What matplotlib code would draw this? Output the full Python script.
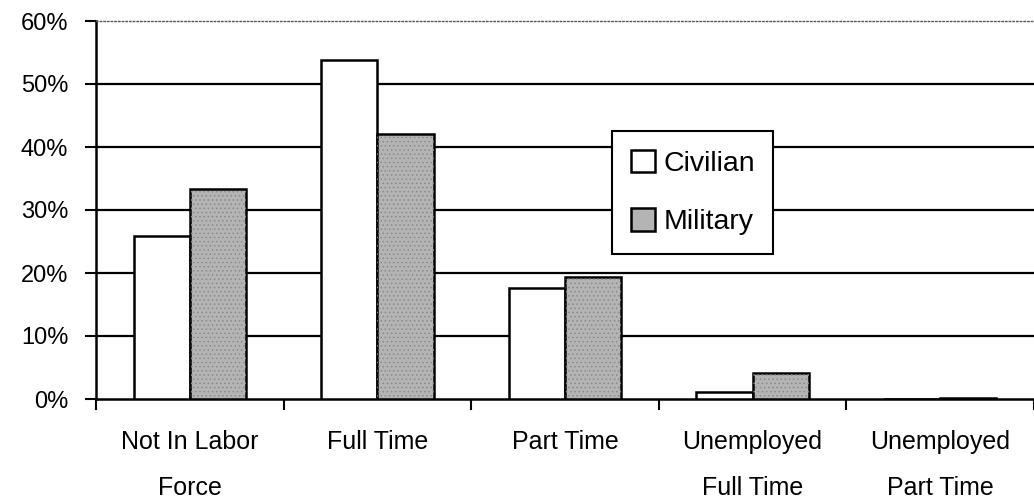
import numpy as np
import matplotlib.pyplot as plt
from matplotlib.ticker import FuncFormatter, FixedLocator

# data
categories = ["Not In Labor\nForce", "Full Time", "Part Time",
              "Unemployed\nFull Time", "Unemployed\nPart Time"]
civilian = [25.8, 53.8, 17.6, 1.1, 0.0]
military = [33.4, 42.0, 19.3, 4.1, 0.2]

plt.rcParams['font.family'] = ['Liberation Sans', 'DejaVu Sans']

fig = plt.figure(figsize=(10.34, 5.00), dpi=100)
ax = fig.add_axes([96 / 1034, 1 - 399 / 500, 1 - 96 / 1034, 378 / 500])

x = np.arange(len(categories))
w = 0.3

ax.bar(x - w / 2, civilian, w, color='white', edgecolor='black',
       linewidth=1.8, zorder=3, label='Civilian')
ax.bar(x + w / 2, military, w, color='#b4b4b4', edgecolor='black',
       linewidth=1.8, zorder=3, label='Military')
# stipple texture on the military bars
plt.rcParams['hatch.linewidth'] = 0.6
ax.bar(x + w / 2, military, w, color='none', edgecolor='#8a8a8a',
       hatch='....', linewidth=0, zorder=3.5)

ax.set_xlim(-0.5, len(categories) - 0.5)
ax.set_ylim(0, 60)

# horizontal grid lines
for v in range(10, 60, 10):
    ax.axhline(v, color='black', linewidth=1.6, zorder=1)

ax.spines['top'].set_linestyle(':')
ax.spines['top'].set_color('#555555')
ax.spines['top'].set_linewidth(1.0)
ax.spines['right'].set_visible(False)
ax.spines['left'].set_linewidth(1.8)
ax.spines['bottom'].set_linewidth(1.8)

ax.set_yticks(range(0, 61, 10))
ax.yaxis.set_major_formatter(FuncFormatter(lambda v, p: f"{int(v)}%"))
ax.tick_params(axis='y', direction='out', length=8, width=1.5,
               labelsize=17, pad=12)

ax.set_xticks(x)
ax.set_xticklabels(categories, linespacing=2.2)
ax.xaxis.set_minor_locator(FixedLocator(np.arange(-0.5, len(categories), 1)))
ax.tick_params(axis='x', which='major', length=0, labelsize=18, pad=22)
ax.tick_params(axis='x', which='minor', direction='out', length=8, width=1.5)
for lab in ax.get_xticklabels():
    lab.set_verticalalignment('top')

leg = ax.legend(loc='upper left', bbox_to_anchor=(612 / 1034, 1 - 131 / 500),
                bbox_transform=fig.transFigure, fontsize=20.5, fancybox=False,
                edgecolor='black', framealpha=1, handlelength=0.85,
                handleheight=0.85, handletextpad=0.3, labelspacing=1.1,
                borderpad=0.65, borderaxespad=0)
leg.get_frame().set_linewidth(1.5)
leg.set_zorder(5)

fig.savefig('out.png', dpi=100)
